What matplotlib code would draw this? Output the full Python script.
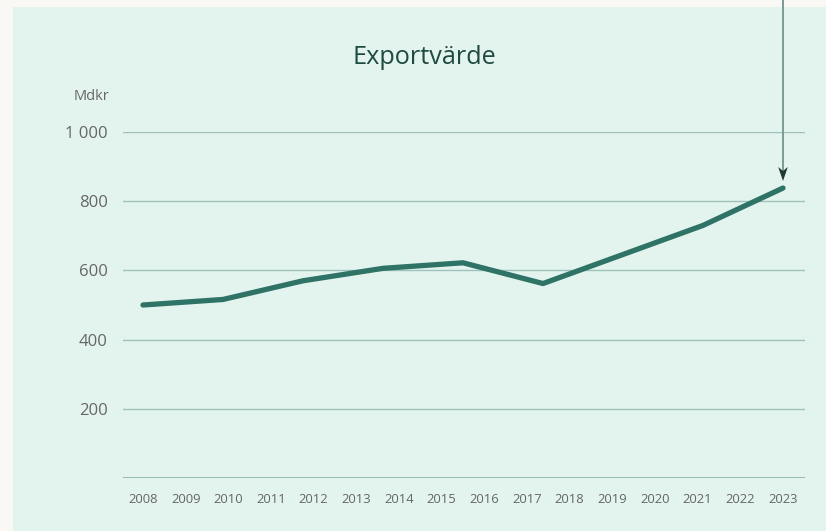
import numpy as np
import matplotlib
matplotlib.use("Agg")
import matplotlib.pyplot as plt
from matplotlib.patches import Rectangle, Polygon

plt.rcParams['font.family'] = ['Open Sans', 'DejaVu Sans']

# data
years = list(range(2008, 2024))
values = [500, 516, 570, 606, 622, 562, 646, 730, 838]   # Mdkr
yticks = [200, 400, 600, 800, 1000]
ytick_labels = ['200', '400', '600', '800', '1 000']

outer_bg = '#f9f8f5'
panel_bg = '#e3f4ef'
line_col = '#2e7366'
grid_col = '#9ec2b9'
text_col = '#666666'

W, H = 826, 531
fig = plt.figure(figsize=(W / 100, H / 100), dpi=100)
fig.patch.set_facecolor(outer_bg)
fig.patches.append(Rectangle((13 / W, 0), 1, 1 - 7 / H, transform=fig.transFigure,
                             facecolor=panel_bg, edgecolor='none', zorder=-5))

ax = fig.add_axes([123 / W, 53 / H, 682 / W, 346 / H])
ax.set_facecolor('none')

xs = np.linspace(years[0], years[-1], len(values))
ax.plot(xs, values, color=line_col, lw=3.8, solid_capstyle='round',
        solid_joinstyle='round', zorder=3, clip_on=False)

ax.set_ylim(0, 1000)
ax.set_xlim(years[0] - 0.469, years[-1] + 0.516)
ax.set_yticks(yticks)
ax.set_yticklabels(ytick_labels)
ax.set_xticks(years)
ax.set_xticklabels([str(y) for y in years])
for y in yticks:
    ax.axhline(y, color=grid_col, lw=1, zorder=1)
ax.axhline(0, color='#8db3a9', lw=2, zorder=1)

for s in ax.spines.values():
    s.set_visible(False)
ax.tick_params(axis='y', length=0, pad=11, labelsize=12, labelcolor=text_col)
ax.tick_params(axis='x', length=0, pad=11, labelsize=9.4, labelcolor=text_col)

fig.text(424 / W, 1 - 58 / H, 'Exportvärde', ha='center', va='center',
         fontsize=18.2, color='#1f4a40')
fig.text(109 / W, 1 - 97 / H, 'Mdkr', ha='right', va='center',
         fontsize=10.5, color=text_col)

# arrow pointing at last value (stealth-style head)
ax_x = 783
fig.add_artist(plt.Line2D([ax_x / W, ax_x / W], [1.0, 1 - 170 / H], transform=fig.transFigure,
                          color='#7d9a95', lw=1.4))
head = [(ax_x, 181), (ax_x - 4.8, 167), (ax_x, 171), (ax_x + 4.8, 167)]
fig.patches.append(Polygon([(x / W, 1 - y / H) for x, y in head], closed=True,
                           transform=fig.transFigure, facecolor='#1c3a33',
                           edgecolor='none', zorder=5))

fig.savefig('out.png', dpi=100, facecolor=outer_bg)
